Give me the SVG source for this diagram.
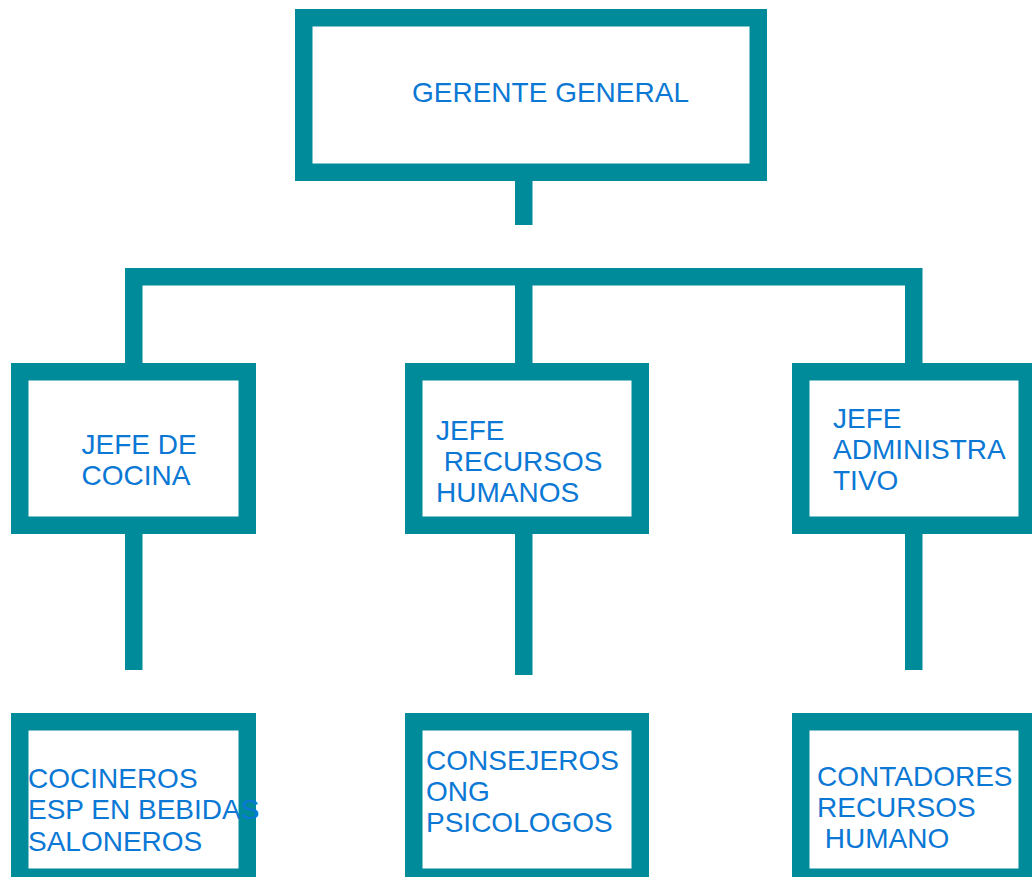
<svg xmlns="http://www.w3.org/2000/svg" width="1032" height="877" viewBox="0 0 1032 877">
<style>
.box{fill:#ffffff;stroke:#008B9A;stroke-width:17.5}
.con{fill:none;stroke:#008B9A;stroke-width:17.5;stroke-linecap:butt;stroke-linejoin:miter}
.t{font-family:"Liberation Sans",Arial,sans-serif;font-size:28px;fill:#0A78D4}
</style>
<rect width="1032" height="877" fill="#ffffff"/>
<g id="connectors">
<path class="con" d="M523.75 181 V225"/>
<path class="con" d="M133.75 363 V276.75 H913.75 V363"/>
<path class="con" d="M523.75 276.75 V363"/>
<path class="con" d="M133.75 534 V670"/>
<path class="con" d="M523.75 534 V675"/>
<path class="con" d="M913.75 534 V670"/>
</g>
<g id="gerente">
<rect class="box" x="303.75" y="17.75" width="454.5" height="154.5"/>
<text class="t" x="412" y="101.5">GERENTE GENERAL</text>
</g>
<g id="jefe-cocina">
<rect class="box" x="19.75" y="371.75" width="227.5" height="153.5"/>
<text class="t" x="81.5" y="454">JEFE DE</text>
<text class="t" x="81.5" y="485">COCINA</text>
</g>
<g id="jefe-rrhh">
<rect class="box" x="413.75" y="371.75" width="226.5" height="153.5"/>
<text class="t" x="436" y="440">JEFE</text>
<text class="t" x="436" y="471" xml:space="preserve"> RECURSOS</text>
<text class="t" x="436" y="501.5">HUMANOS</text>
</g>
<g id="jefe-admin">
<rect class="box" x="800.75" y="371.75" width="226.5" height="153.5"/>
<text class="t" x="833" y="428">JEFE</text>
<text class="t" x="833" y="459">ADMINISTRA</text>
<text class="t" x="833" y="489.5">TIVO</text>
</g>
<g id="cocineros">
<rect class="box" x="19.75" y="721.75" width="227.5" height="155.5"/>
<text class="t" x="28" y="787.5">COCINEROS</text>
<text class="t" x="28" y="819">ESP EN BEBIDAS</text>
<text class="t" x="28" y="850.5">SALONEROS</text>
</g>
<g id="consejeros">
<rect class="box" x="413.75" y="721.75" width="226.5" height="155.5"/>
<text class="t" x="426" y="769.5">CONSEJEROS</text>
<text class="t" x="426" y="800.5">ONG</text>
<text class="t" x="426" y="832">PSICOLOGOS</text>
</g>
<g id="contadores">
<rect class="box" x="800.75" y="721.75" width="226.5" height="155.5"/>
<text class="t" x="817" y="786">CONTADORES</text>
<text class="t" x="817" y="817">RECURSOS</text>
<text class="t" x="817" y="848" xml:space="preserve"> HUMANO</text>
</g>
</svg>
